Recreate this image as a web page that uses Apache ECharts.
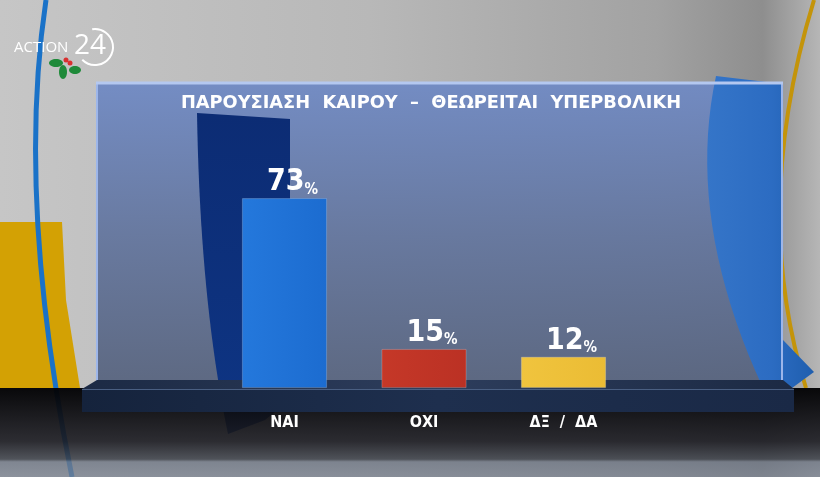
<!DOCTYPE html>
<html><head><meta charset="utf-8">
<script src="https://cdn.jsdelivr.net/npm/echarts@6/dist/echarts.min.js"></script>
<style>html,body{margin:0;padding:0;background:#b0b0b0}#c{width:820px;height:477px}</style>
</head><body><div id="c"></div>
<script>
const title = 'ΠΑΡΟΥΣΙΑΣΗ  ΚΑΙΡΟΥ  –  ΘΕΩΡΕΙΤΑΙ  ΥΠΕΡΒΟΛΙΚΗ';
const categories = ['ΝΑΙ', 'ΟΧΙ', 'ΔΞ  /  ΔΑ'];
const values = [73, 15, 12];
const barColors = [['#2478dc', '#1c6cd0'], ['#c53828', '#bb3124'], ['#f0c43e', '#ebbc34']];

const chart = echarts.init(document.getElementById('c'), null, {renderer: 'canvas'});
const lg = (x, y, x2, y2, stops) => new echarts.graphic.LinearGradient(x, y, x2, y2, stops.map((c) => ({offset: c[0], color: c[1]})));
function quad(p0, c, p1, n) {
  const pts = [];
  for (let i = 0; i <= n; i++) {
    const t = i / n, a = (1 - t) * (1 - t), b = 2 * t * (1 - t), d = t * t;
    pts.push([a * p0[0] + b * c[0] + d * p1[0], a * p0[1] + b * c[1] + d * p1[1]]);
  }
  return pts;
}
const darkSwoosh = [[197, 113], [290, 119], [290, 400], [265, 420]].concat(quad([228, 434], [200, 300], [197, 113], 20));
const blueSwoosh = [[716, 76], [783, 84], [783, 340], [814, 372], [792, 388]].concat(quad([763, 388], [685, 220], [716, 76], 20));

const bg = [
  {type: 'rect', shape: {x: 0, y: 0, width: 820, height: 477}, style: {fill: lg(0, 0, 1, 0, [[0, '#c6c6c6'], [0.45, '#b8b8b8'], [0.8, '#a2a2a2'], [0.93, '#8e8e8e'], [1, '#b6b6b6']])}},
  {type: 'polygon', shape: {points: [[0, 222], [62, 222], [66, 300], [80, 388], [0, 388]]}, style: {fill: '#d3a104'}},
  {type: 'bezierCurve', shape: {x1: 46, y1: 0, cpx1: 16, cpy1: 200, x2: 72, y2: 477}, style: {stroke: '#1a72c8', lineWidth: 5, fill: null}},
  {type: 'bezierCurve', shape: {x1: 814, y1: 0, cpx1: 750, cpy1: 210, x2: 806, y2: 388}, style: {stroke: '#c4940a', lineWidth: 4, fill: null}},
  {type: 'rect', shape: {x: 96, y: 82, width: 687, height: 306}, style: {fill: lg(0, 0, 0, 1, [[0, 'rgba(112,138,196,0.95)'], [0.5, 'rgba(100,118,158,0.95)'], [1, 'rgba(88,100,126,0.95)']])}},
  {type: 'polygon', shape: {points: darkSwoosh}, style: {fill: lg(0, 0, 0, 1, [[0, '#0c2c74'], [1, '#0e3584']])}},
  {type: 'polygon', shape: {points: blueSwoosh}, style: {fill: lg(0, 0, 1, 0, [[0, '#3575c8'], [0.6, '#2c6cc2'], [1, '#1f5eae']])}},
  {type: 'rect', shape: {x: 97, y: 83, width: 685, height: 305}, style: {fill: null, stroke: '#9db6ea', lineWidth: 2}},
  {type: 'line', shape: {x1: 96, y1: 83, x2: 783, y2: 83}, style: {stroke: '#b4c8f0', lineWidth: 3}},
  {type: 'rect', shape: {x: 0, y: 388, width: 820, height: 89}, style: {fill: lg(0, 0, 0, 1, [[0, 'rgba(2,2,4,0.97)'], [0.6, 'rgba(28,28,34,0.9)'], [0.8, 'rgba(60,64,72,0.85)'], [0.83, 'rgba(110,118,132,0.8)'], [1, 'rgba(120,128,142,0.75)']])}},
  {type: 'polygon', shape: {points: [[82, 389], [97, 380], [783, 380], [794, 389]]}, style: {fill: lg(0, 0, 1, 0, [[0, '#1c2a44'], [0.5, '#2d3d5c'], [1, '#1c2a44']])}},
  {type: 'rect', shape: {x: 82, y: 389, width: 712, height: 23}, style: {fill: lg(0, 0, 1, 0, [[0, '#15233c'], [0.5, '#1e2f4e'], [1, '#1a2946']])}},
  {type: 'line', shape: {x1: 82, y1: 389.5, x2: 794, y2: 389.5}, style: {stroke: '#4a5f82', lineWidth: 1}},
  {type: 'text', x: 431, y: 103, style: {text: title, fill: '#ffffff', font: 'bold 17.8px "DejaVu Sans"', textAlign: 'center', textVerticalAlign: 'middle'}},
  {type: 'text', x: 14, y: 48, style: {text: 'ACTION', fill: '#ffffff', font: '15px "Open Sans"', textAlign: 'left', textVerticalAlign: 'middle'}},
  {type: 'text', x: 90, y: 46, style: {text: '24', fill: '#ffffff', font: '28px "Open Sans"', textAlign: 'center', textVerticalAlign: 'middle'}},
  {type: 'arc', shape: {cx: 95, cy: 47, r: 18, startAngle: -Math.PI * 0.55, endAngle: Math.PI * 0.75}, style: {stroke: '#ffffff', lineWidth: 2, fill: null}},
  {type: 'ellipse', shape: {cx: 56, cy: 63, rx: 7, ry: 4}, style: {fill: '#1f8a3a'}},
  {type: 'ellipse', shape: {cx: 63, cy: 72, rx: 4, ry: 7}, style: {fill: '#1f8a3a'}},
  {type: 'ellipse', shape: {cx: 75, cy: 70, rx: 6, ry: 4}, style: {fill: '#1f8a3a'}},
  {type: 'circle', shape: {cx: 66, cy: 60, r: 2.5}, style: {fill: '#d83030'}},
  {type: 'circle', shape: {cx: 70, cy: 63, r: 2.5}, style: {fill: '#d83030'}}
];

chart.setOption({
  animation: false,
  graphic: {elements: bg},
  grid: {left: 214.75, right: 186.75, top: 128, bottom: 89},
  xAxis: {
    type: 'category', data: categories,
    axisLine: {show: false}, axisTick: {show: false},
    axisLabel: {color: '#ffffff', fontFamily: 'DejaVu Sans Condensed', fontWeight: 'bold', fontSize: 16, margin: 27}
  },
  yAxis: {type: 'value', min: 0, max: 100, show: false, splitLine: {show: false}},
  series: [{
    type: 'bar', barWidth: 85,
    data: values.map((v, i) => ({
      value: v,
      itemStyle: {color: lg(0, 0, 1, 0, [[0, barColors[i][0]], [1, barColors[i][1]]]), borderColor: 'rgba(255,255,255,0.25)', borderWidth: 0.8}
    })),
    label: {
      show: true, position: 'top', distance: 1, offset: [8, 0],
      formatter: p => '{v|' + p.value + '}{p|%}',
      rich: {
        v: {fontSize: 30, fontWeight: 'bold', color: '#fff', fontFamily: 'DejaVu Sans Condensed', lineHeight: 30},
        p: {fontSize: 15, fontWeight: 'bold', color: '#fff', fontFamily: 'DejaVu Sans Condensed', verticalAlign: 'bottom', lineHeight: 24}
      }
    }
  }]
});
</script></body></html>
